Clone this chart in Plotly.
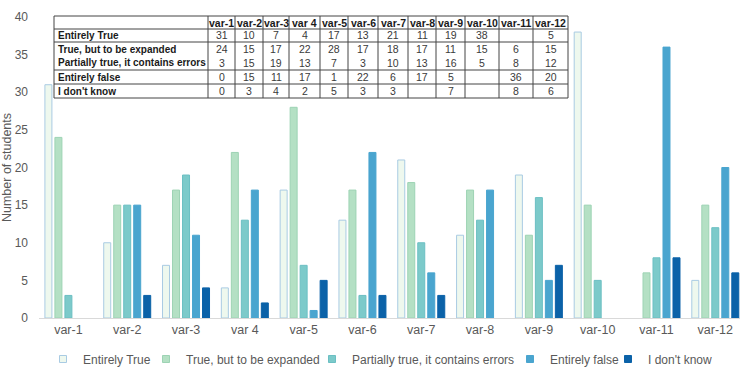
import plotly.graph_objects as go

categories = ["var-1", "var-2", "var-3", "var 4", "var-5", "var-6", "var-7", "var-8", "var-9", "var-10", "var-11", "var-12"]
series_names = ["Entirely True", "True, but to be expanded", "Partially true, it contains errors", "Entirely false", "I don't know"]

entirely_true = [31, 10, 7, 4, 17, 13, 21, 11, 19, 38, None, 5]
true_expanded = [24, 15, 17, 22, 28, 17, 18, 17, 11, 15, 6, 15]
partially_true = [3, 15, 19, 13, 7, 3, 10, 13, 16, 5, 8, 12]
entirely_false = [0, 15, 11, 17, 1, 22, 6, 17, 5, None, 36, 20]
dont_know = [0, 3, 4, 2, 5, 3, 3, None, 7, None, 8, 6]

series_values = [entirely_true, true_expanded, partially_true, entirely_false, dont_know]
fills = ["#eef8ee", "#b4e0c4", "#7ccaca", "#4aa5cf", "#0b62a8"]
borders = ["#a9cbe3", "#9dd3b4", "#6bbfc3", "#4aa5cf", "#0b62a8"]

FONT = "Liberation Sans, Arial, sans-serif"
W, H = 740, 376
ml, mr, mt, mb = 39, 0, 10, 58
pw, ph = W - ml - mr, H - mt - mb


def py(y):
    return (H - mb - y) / ph


def px(x):
    return (x - ml) / pw


fig = go.Figure()

# bars
for name, vals, fc, bc in zip(series_names, series_values, fills, borders):
    fig.add_trace(go.Bar(
        x=categories, y=[v if v else None for v in vals], name=name,
        legendgroup=name, showlegend=False,
        marker=dict(color=fc, line=dict(color=bc, width=1)),
    ))

# legend entries (one legend per entry so each can be placed like the reference)
legend_ids = ["legend", "legend2", "legend3", "legend4", "legend5"]
legend_text_x = [83, 186, 352, 550, 648]
for name, fc, bc, lid in zip(series_names, fills, borders, legend_ids):
    fig.add_trace(go.Scatter(
        x=[None], y=[None], mode="markers", name=name, legend=lid, legendgroup=name,
        marker=dict(symbol="square", size=7, color=fc, line=dict(color=bc, width=1)),
    ))

legend_layout = {}
for lid, tx in zip(legend_ids, legend_text_x):
    legend_layout[lid] = dict(
        x=px(tx - 40), xanchor="left", y=py(359), yanchor="middle",
        orientation="h", bgcolor="rgba(0,0,0,0)", borderwidth=0,
        font=dict(family=FONT, size=12, color="#595959"), itemwidth=30,
    )

# data table drawn on top of the plot
col_edges = [54, 208, 235, 263, 289, 320, 348, 378, 408, 436, 465, 499, 533, 568]
row_edges = [16, 29, 42, 56, 70, 84, 98]
hidden_hlines = [56]
line_col = "#454545"

shapes = [dict(type="rect", xref="paper", yref="paper",
               x0=px(col_edges[0]), x1=px(col_edges[-1]), y0=py(row_edges[-1]), y1=py(row_edges[0]),
               fillcolor="white", line=dict(color=line_col, width=1), layer="above")]
for x in col_edges[1:-1]:
    shapes.append(dict(type="line", xref="paper", yref="paper", x0=px(x), x1=px(x),
                       y0=py(row_edges[-1]), y1=py(row_edges[0]), line=dict(color=line_col, width=1)))
for y in row_edges[1:-1]:
    if y in hidden_hlines:
        continue
    shapes.append(dict(type="line", xref="paper", yref="paper", x0=px(col_edges[0]), x1=px(col_edges[-1]),
                       y0=py(y), y1=py(y), line=dict(color=line_col, width=1)))

annotations = []
centers_x = [(a + b) / 2 for a, b in zip(col_edges[1:-1], col_edges[2:])]
centers_y = [(a + b) / 2 for a, b in zip(row_edges[:-1], row_edges[1:])]
for cx, cat in zip(centers_x, categories):
    annotations.append(dict(x=px(cx), y=py(centers_y[0]), xref="paper", yref="paper",
                            text="<b>%s</b>" % cat, showarrow=False, xanchor="center", yanchor="middle",
                            font=dict(family=FONT, size=10.5, color="#1a1a1a")))
for r, (name, vals) in enumerate(zip(series_names, series_values)):
    cy = centers_y[r + 1]
    annotations.append(dict(x=px(col_edges[0] + 2), y=py(cy), xref="paper", yref="paper",
                            text="<b>%s</b>" % name, showarrow=False, xanchor="left", yanchor="middle",
                            font=dict(family=FONT, size=10, color="#1a1a1a")))
    for cx, v in zip(centers_x, vals):
        if v is None:
            continue
        annotations.append(dict(x=px(cx), y=py(cy), xref="paper", yref="paper",
                                text=str(v), showarrow=False, xanchor="center", yanchor="middle",
                                font=dict(family=FONT, size=10.5, color="#3a3a3a")))

fig.update_layout(
    width=W, height=H,
    margin=dict(l=ml, r=mr, t=mt, b=mb),
    paper_bgcolor="white", plot_bgcolor="white",
    barmode="group", bargap=0.15, bargroupgap=0.3,
    font=dict(family=FONT, color="#595959", size=12),
    showlegend=True,
    xaxis=dict(showline=True, linecolor="#d9d9d9", linewidth=1, ticks="", showgrid=False,
               range=[-0.5, 11.42], tickfont=dict(size=12.5, color="#595959")),
    yaxis=dict(range=[0, 40], dtick=5, showgrid=False, zeroline=False, showline=False,
               domain=[0, py(17)], ticklabelstandoff=10,
               title=dict(text="Number of students", font=dict(size=12.5, color="#595959"), standoff=2),
               tickfont=dict(size=12, color="#595959")),
    shapes=shapes,
    annotations=annotations,
    **legend_layout,
)

fig.write_html("out.html")
